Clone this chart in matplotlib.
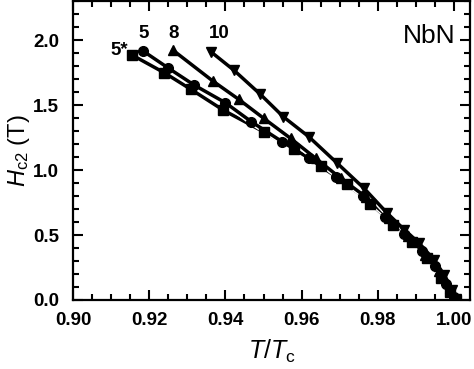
#! /usr/bin/env python3

import matplotlib
matplotlib.use("Agg")
import matplotlib.pyplot as plt
from matplotlib.ticker import MultipleLocator

"""
Données : H_c2(T/T_c) pour NbN.
"""

t_5star = [0.9155, 0.9240, 0.9310, 0.9395, 0.9500, 0.9580, 0.9650, 0.9720,
           0.9780, 0.9840, 0.9890, 0.9930, 0.9965, 0.9990, 1.0005]
h_5star = [1.885, 1.748, 1.620, 1.460, 1.295, 1.160, 1.030, 0.890,
           0.740, 0.580, 0.450, 0.320, 0.170, 0.060, 0.000]

t_5 = [0.9183, 0.9249, 0.9318, 0.9400, 0.9468, 0.9549, 0.9620, 0.9690,
       0.9760, 0.9820, 0.9870, 0.9915, 0.9950, 0.9980, 1.0000]
h_5 = [1.918, 1.787, 1.654, 1.518, 1.372, 1.218, 1.090, 0.950,
       0.800, 0.640, 0.510, 0.380, 0.260, 0.120, 0.020]

t_8 = [0.9262, 0.9367, 0.9435, 0.9501, 0.9571, 0.9637, 0.9703, 0.9770,
       0.9830, 0.9880, 0.9925, 0.9960, 0.9990, 1.0005]
h_8 = [1.923, 1.685, 1.544, 1.397, 1.244, 1.090, 0.936, 0.790,
       0.630, 0.490, 0.350, 0.220, 0.090, 0.000]

t_10 = [0.9362, 0.9422, 0.9492, 0.9552, 0.9619, 0.9694, 0.9764, 0.9825,
        0.9870, 0.9909, 0.9948, 0.9975, 0.9995, 1.0005]
h_10 = [1.910, 1.769, 1.582, 1.410, 1.256, 1.051, 0.859, 0.667,
        0.540, 0.436, 0.308, 0.190, 0.080, 0.010]

series = [
    (t_5star, h_5star, "s"),
    (t_5, h_5, "o"),
    (t_8, h_8, "^"),
    (t_10, h_10, "v"),
]

labels = [("5*", 0.9145, 1.92, "right"),
          ("5", 0.9185, 2.05, "center"),
          ("8", 0.9265, 2.05, "center"),
          ("10", 0.9385, 2.05, "center")]

plt.rcParams["font.family"] = ["Liberation Sans", "DejaVu Sans"]
plt.rcParams["mathtext.fontset"] = "custom"
plt.rcParams["mathtext.it"] = "Liberation Sans:italic"
plt.rcParams["mathtext.rm"] = "Liberation Sans"

fig = plt.figure(figsize=(4.74, 3.69), dpi=100)
ax = fig.add_axes([0.154, 0.187, 0.9916 - 0.154, 0.997 - 0.187])

# lignes : un liseré blanc puis le trait noir, série par série
z = 2
for t, h, m in series:
    ax.plot(t, h, "-", color="white", lw=4.6, zorder=z)
    ax.plot(t, h, "-", color="k", lw=2.5, zorder=z + 0.5)
    z += 1

# symboles par-dessus tout
for t, h, m in series:
    ax.plot(t, h, ls="none", marker=m, ms=7, mec="k", mfc="k", zorder=10)

for txt, x, y, ha in labels:
    ax.text(x, y, txt, ha=ha, va="center", fontsize=13.5, fontweight="bold")

ax.text(1.0003, 2.03, "NbN", ha="right", va="center", fontsize=19)

ax.set_xlim(0.90, 1.0042)
ax.set_ylim(0.0, 2.3)
ax.xaxis.set_major_locator(MultipleLocator(0.02))
ax.xaxis.set_minor_locator(MultipleLocator(0.005))
ax.yaxis.set_major_locator(MultipleLocator(0.5))
ax.yaxis.set_minor_locator(MultipleLocator(0.1))
ax.xaxis.set_major_formatter(plt.FormatStrFormatter("%.2f"))
ax.yaxis.set_major_formatter(plt.FormatStrFormatter("%.1f"))

ax.tick_params(which="both", direction="in", top=True, right=True,
               labeltop=False, labelright=False, width=1.5)
ax.tick_params(which="major", length=7)
ax.tick_params(which="minor", length=4)
ax.tick_params("x", pad=9)
ax.tick_params("y", pad=10)
for lab in ax.get_xticklabels() + ax.get_yticklabels():
    lab.set_fontweight("bold")
    lab.set_fontsize(13.5)
for s in ax.spines.values():
    s.set_linewidth(1.6)

ax.set_xlabel(r"$T/T_{\rm c}$", fontsize=18, labelpad=6)
ax.set_ylabel(r"$H_{\rm c2}$ (T)", fontsize=17, labelpad=1)

fig.savefig("out.png", dpi=100)
